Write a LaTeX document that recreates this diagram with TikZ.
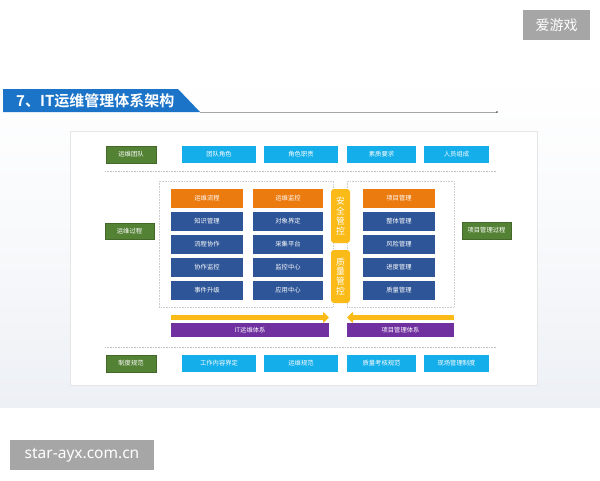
\documentclass[tikz,border=0pt]{standalone}
\usepackage{fontspec}
\usetikzlibrary{arrows.meta,shadows}
\newfontfamily\cjk{Noto Sans CJK SC}[BoldFont={Noto Sans CJK SC Bold}]
\newfontfamily\wmfont{Noto Sans}
\definecolor{grn}{HTML}{548235}
\definecolor{lblu}{HTML}{14AEEA}
\definecolor{orng}{HTML}{EB7A0F}
\definecolor{dblu}{HTML}{2E5597}
\definecolor{yel}{HTML}{FABB18}
\definecolor{purp}{HTML}{7030A0}
\definecolor{tblu}{HTML}{1C74C8}
\definecolor{bgc}{HTML}{EDF0F5}
\definecolor{wmgray}{HTML}{A6A6A6}
\begin{document}
\begin{tikzpicture}[x=1pt,y=-1pt,
  bx/.style={draw=none, inner sep=0pt, text=white, font=\cjk\fontsize{6.3}{7}\selectfont},
  grnbox/.style={bx, fill=grn, draw=grn!80!black, line width=0.3pt},
  lbbox/.style={bx, fill=lblu},
  orbox/.style={bx, fill=orng, minimum width=72pt, minimum height=19pt},
  dbbox/.style={bx, fill=dblu, minimum width=72pt, minimum height=19pt},
  ylbox/.style={bx, fill=yel, rounded corners=3pt, minimum width=19pt, align=center, font=\cjk\fontsize{8.8}{9.8}\selectfont},
  ppbox/.style={bx, fill=purp, minimum height=14pt},
  sep/.style={densely dotted, gray!50, line width=0.6pt},
  grp/.style={densely dotted, gray!40, line width=0.6pt},
  flow/.style={yel, line width=5pt, -{Triangle[length=6pt,width=11pt]}},
  wm/.style={fill=wmgray, text=white, inner sep=0pt}
]
\useasboundingbox (0,0) rectangle (600,480);
\fill[white] (0,0) rectangle (600,480);
% background band
\shade[top color=white, bottom color=bgc, middle color=white!60!bgc] (0,75) rectangle (600,407);
% panel
\node[draw=gray!20, fill=white, line width=0.6pt, minimum width=467pt, minimum height=254pt, inner sep=0pt] (panel) at (303.5,258) {};
% title banner
\fill[tblu] (3,89) -- (178,89) -- (200,112) -- (3,112) -- cycle;
\node[anchor=west, text=white, inner sep=0pt, font=\cjk\bfseries\fontsize{15}{17}\selectfont] (title) at (16,100.5) {7、IT运维管理体系架构};
\coordinate (lineA) at (200,112);
\coordinate (lineB) at (497,112);
\draw[gray!70, line width=0.6pt] (lineA) -- (lineB);
\fill[gray!40!black] (lineB) circle (0.9pt);
% watermarks
\node[wm, minimum width=67pt, minimum height=30pt, font=\cjk\fontsize{14}{16}\selectfont] (wm1) at (556.5,25) {爱游戏};
\node[wm, minimum width=144pt, minimum height=30pt, font=\wmfont\fontsize{15.5}{17}\selectfont] (wm2) at (82,455) {star-ayx.com.cn};
% separators
\draw[sep] (105,171) -- (496,171);
\draw[sep] (105,347) -- (496,347);
% group boxes
\draw[grp] (159,181) rectangle (333,307);
\draw[grp] (347,181) rectangle (454,307);
% row 1
\node[grnbox, minimum width=50pt, minimum height=17pt] (g1) at (131,154.5) {运维团队};
\node[lbbox, minimum width=74pt, minimum height=17pt] (t1) at (219,154.5) {团队角色};
\node[lbbox, minimum width=74pt, minimum height=17pt] (t2) at (301,154.5) {角色职责};
\node[lbbox, minimum width=69pt, minimum height=17pt] (t3) at (381.5,154.5) {素质要求};
\node[lbbox, minimum width=65pt, minimum height=17pt] (t4) at (456.5,154.5) {人员组成};
% middle
\node[grnbox, minimum width=49pt, minimum height=16pt] (g2) at (129.5,231) {运维过程};
\node[grnbox, minimum width=49pt, minimum height=17pt] (g3) at (486.5,230.5) {项目管理过程};
% column A
\node[orbox] (a1) at (207,198.5) {运维流程};
\node[dbbox] (a2) at (207,221.5) {知识管理};
\node[dbbox] (a3) at (207,244.5) {流程协作};
\node[dbbox] (a4) at (207,267.5) {协作监控};
\node[dbbox] (a5) at (207,290.5) {事件升级};
% column B
\node[orbox, minimum width=70pt] (b1) at (288,198.5) {运维监控};
\node[dbbox, minimum width=70pt] (b2) at (288,221.5) {对象界定};
\node[dbbox, minimum width=70pt] (b3) at (288,244.5) {采集平台};
\node[dbbox, minimum width=70pt] (b4) at (288,267.5) {监控中心};
\node[dbbox, minimum width=70pt] (b5) at (288,290.5) {应用中心};
% column C
\node[orbox] (c1) at (399,198.5) {项目管理};
\node[dbbox] (c2) at (399,221.5) {整体管理};
\node[dbbox] (c3) at (399,244.5) {风险管理};
\node[dbbox] (c4) at (399,267.5) {进度管理};
\node[dbbox] (c5) at (399,290.5) {质量管理};
% yellow vertical
\node[ylbox, minimum height=54pt] (y1) at (340.5,216) {安\\全\\管\\控};
\node[ylbox, minimum height=53pt] (y2) at (340.5,276.5) {质\\量\\管\\控};
% arrows and systems
\coordinate (arA1) at (171,317.5);
\coordinate (arA2) at (329,317.5);
\coordinate (arB1) at (454,317.5);
\coordinate (arB2) at (347,317.5);
\draw[flow] (arA1) -- (arA2);
\draw[flow] (arB1) -- (arB2);
\node[ppbox, minimum width=158pt] (p1) at (250,330) {IT运维体系};
\node[ppbox, minimum width=107pt] (p2) at (400.5,330) {项目管理体系};
% bottom row
\node[grnbox, minimum width=50pt, minimum height=17pt] (g4) at (131,363.5) {制度规范};
\node[lbbox, minimum width=74pt, minimum height=17pt] (u1) at (219,363.5) {工作内容界定};
\node[lbbox, minimum width=74pt, minimum height=17pt] (u2) at (301,363.5) {运维规范};
\node[lbbox, minimum width=69pt, minimum height=17pt] (u3) at (381.5,363.5) {质量考核规范};
\node[lbbox, minimum width=65pt, minimum height=17pt] (u4) at (456.5,363.5) {现场管理制度};
\end{tikzpicture}
\end{document}
